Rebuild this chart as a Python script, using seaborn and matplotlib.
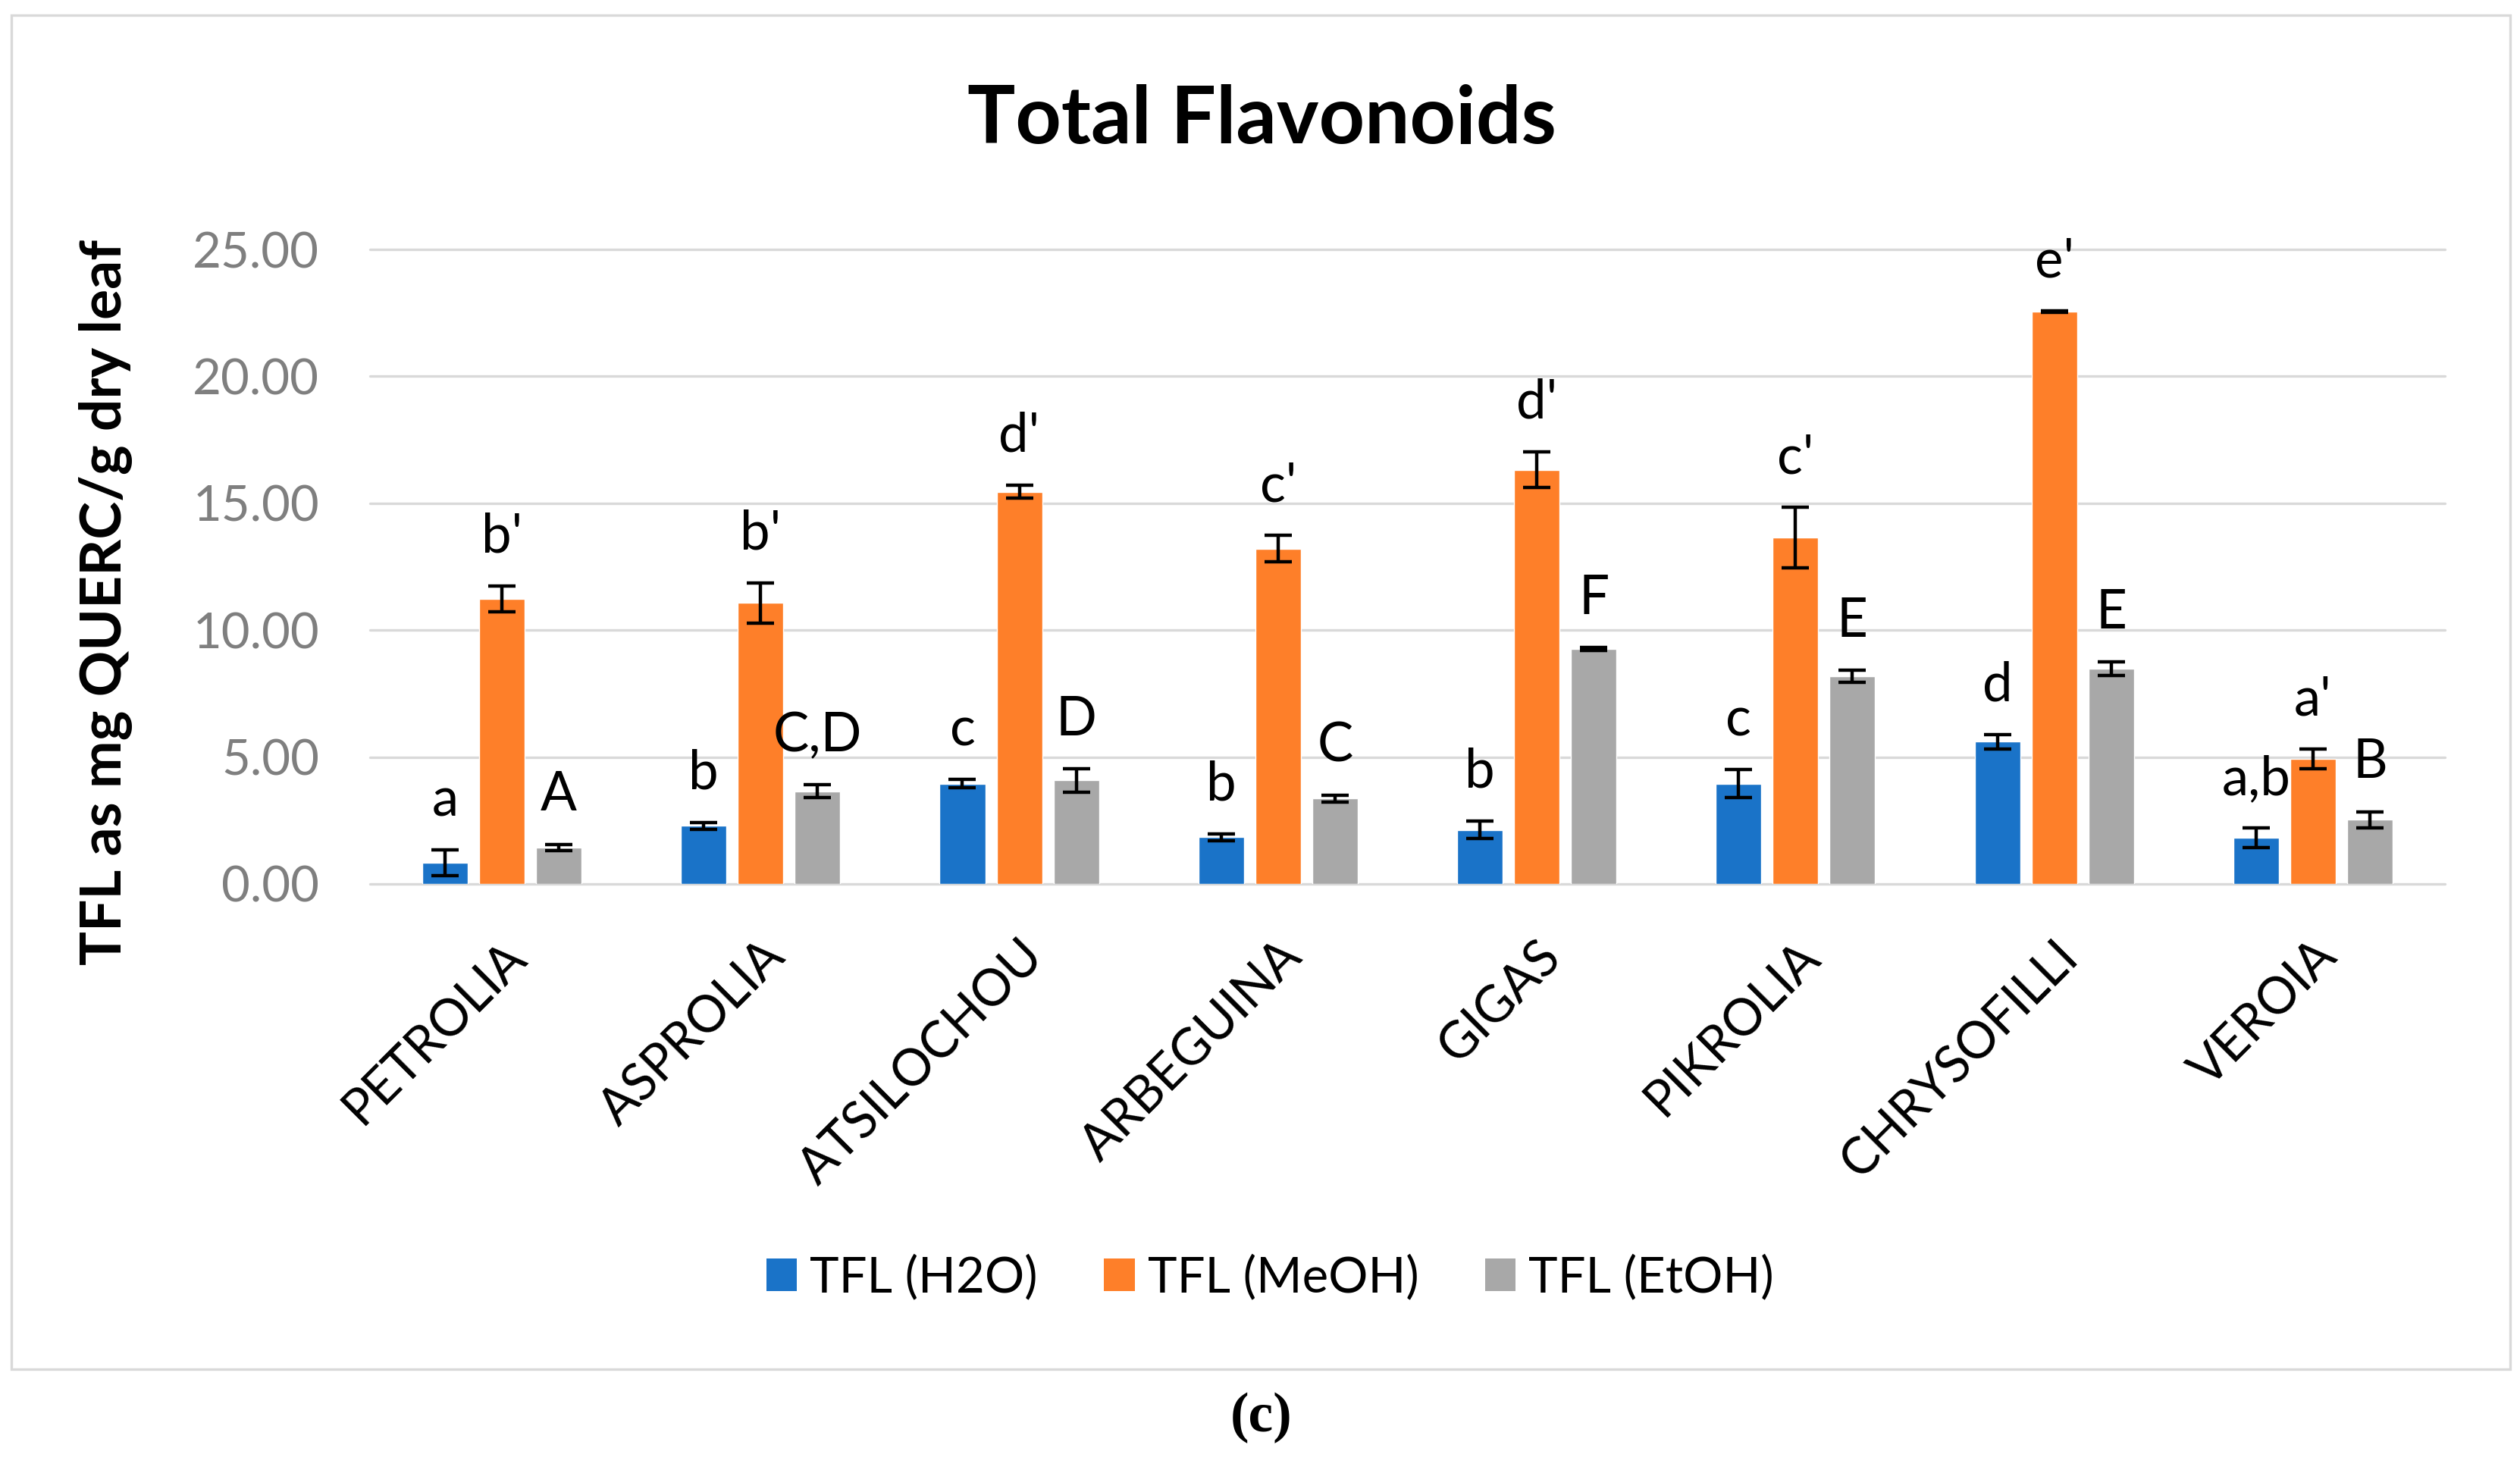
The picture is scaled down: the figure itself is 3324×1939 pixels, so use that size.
import numpy as np
import pandas as pd
import matplotlib
matplotlib.use("Agg")
import matplotlib.pyplot as plt
import seaborn as sns
from matplotlib.ticker import FormatStrFormatter
from matplotlib.patches import Rectangle, Patch

# data
cultivars = ["PETROLIA", "ASPROLIA", "ATSILOCHOU", "ARBEGUINA",
             "GIGAS", "PIKROLIA", "CHRYSOFILLI", "VEROIA"]
series = ["TFL (H2O)", "TFL (MeOH)", "TFL (EtOH)"]

h2o = [0.83, 2.29, 3.95, 1.84, 2.13, 3.95, 5.60, 1.81]
h2o_err = [0.51, 0.13, 0.17, 0.14, 0.34, 0.55, 0.29, 0.39]
meoh = [11.23, 11.07, 15.45, 13.21, 16.32, 13.65, 22.55, 4.93]
meoh_err = [0.50, 0.80, 0.26, 0.53, 0.70, 1.19, 0.03, 0.38]
etoh = [1.43, 3.65, 4.08, 3.36, 9.26, 8.18, 8.48, 2.53]
etoh_err = [0.13, 0.25, 0.46, 0.13, 0.05, 0.23, 0.27, 0.31]

letters_h2o = ["a", "b", "c", "b", "b", "c", "d", "a,b"]
letters_meoh = ["b'", "b'", "d'", "c'", "d'", "c'", "e'", "a'"]
letters_etoh = ["A", "C,D", "D", "C", "F", "E", "E", "B"]

colors = ["#1A73C8", "#FE7F29", "#A8A8A8"]

df = pd.DataFrame({
    "cultivar": cultivars * 3,
    "value": h2o + meoh + etoh,
    "extract": [s for s in series for _ in cultivars],
})

sns.set_style("white")
plt.rcParams["font.family"] = ["Lato", "DejaVu Sans"]
plt.rcParams["text.color"] = "black"

fig = plt.figure(figsize=(33.24, 19.39), dpi=100)
ax = fig.add_axes([0.1468, 0.3987, 0.8234, 0.4316])

sns.barplot(data=df, x="cultivar", y="value", hue="extract", hue_order=series,
            palette=colors, saturation=1, width=0.66, gap=0.2,
            errorbar=None, legend=False, ax=ax, zorder=3)

# error bars + significance letters
for cont, errs, letters in zip(ax.containers, [h2o_err, meoh_err, etoh_err],
                               [letters_h2o, letters_meoh, letters_etoh]):
    xs = [p.get_x() + p.get_width() / 2 for p in cont]
    ys = [p.get_height() for p in cont]
    ax.errorbar(xs, ys, yerr=errs, fmt="none", ecolor="black",
                elinewidth=3.2, capsize=13, capthick=3.2, zorder=5)
    for x, y, e, t in zip(xs, ys, errs, letters):
        ax.annotate(t, (x, y + e), xytext=(0, 32), textcoords="offset points",
                    ha="center", va="baseline", fontsize=51, color="black")

ax.set_xlim(-0.51, 7.51)
ax.set_ylim(0, 25)
ax.set_yticks([0, 5, 10, 15, 20, 25])
ax.yaxis.set_major_formatter(FormatStrFormatter("%.2f"))
ax.grid(axis="y", color="#D9D9D9", linewidth=2.4)
ax.set_axisbelow(True)
for gl in ax.yaxis.get_gridlines():
    gl.set_clip_on(False)
for s in ax.spines.values():
    s.set_visible(False)

ax.tick_params(axis="y", length=0, pad=48, labelsize=47, labelcolor="#7F7F7F")
ax.tick_params(axis="x", length=0, pad=46, labelsize=48, labelcolor="black")
plt.setp(ax.get_xticklabels(), rotation=45, ha="right", rotation_mode="anchor")

ax.set_xlabel("")
ax.set_ylabel("TFL as mg QUERC/g dry leaf", fontsize=54, fontweight="bold",
              color="black")
ax.yaxis.set_label_coords(-0.1143, 0.444)

fig.text(0.5006, 0.918, "Total Flavonoids", ha="center", va="center",
         fontsize=76, fontweight="bold", color="black")

handles = [Patch(facecolor=c, edgecolor="none") for c in colors]
fig.legend(handles, series, loc="center", bbox_to_anchor=(0.504, 0.131),
           ncol=3, frameon=False, fontsize=47, handlelength=0.62,
           handleheight=0.62, handletextpad=0.26, columnspacing=1.34)

# chart frame and caption
fig.patches.append(Rectangle((15 / 3324, 1 - 1806 / 1939), 3296 / 3324, 1786 / 1939,
                             transform=fig.transFigure, fill=False,
                             edgecolor="#D9D9D9", linewidth=2.4))
fig.text(0.5006, 0.0356, "(c)", ha="center", va="center", fontsize=53,
         fontweight="bold", family=["Liberation Serif", "DejaVu Serif"])

fig.savefig("out.png", dpi=100, facecolor="white")
